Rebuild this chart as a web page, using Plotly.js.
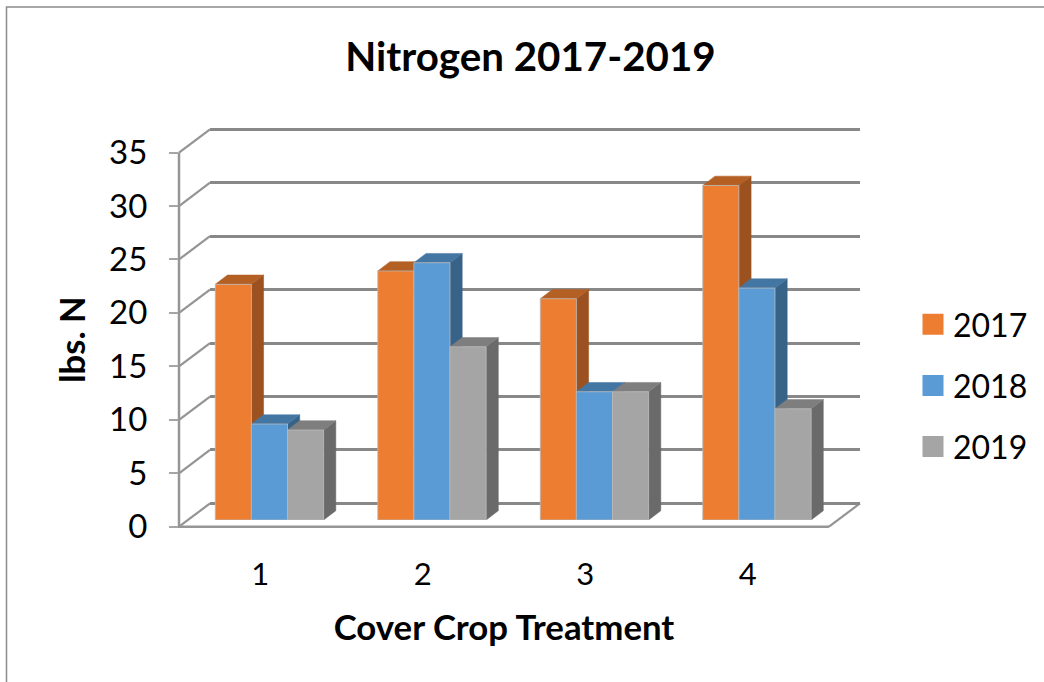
<!DOCTYPE html>
<html><head><meta charset="utf-8">
<script src="https://cdn.plot.ly/plotly-3.0.1.min.js"></script>
<style>html,body{margin:0;padding:0;background:#fff}#c{width:1044px;height:682px}</style>
</head><body><div id="c"></div>
<script>
const categories = [1, 2, 3, 4];
const seriesNames = ['2017', '2018', '2019'];
const values2017 = [22.05, 23.3, 20.7, 31.3];
const values2018 = [8.98, 24.07, 12.0, 21.7];
const values2019 = [8.42, 16.2, 12.0, 10.4];
const yTicks = [0, 5, 10, 15, 20, 25, 30, 35];
const frontColors = ['#ED7D31', '#5B9BD5', '#A5A5A5'];
const topColors = ['#B45F24', '#4476A3', '#7E7E7E'];
const sideColors = ['#9B5220', '#386388', '#6A6A6A'];
const allValues = [values2017, values2018, values2019];

const W = 1044, H = 682, FONT = 'Lato, Carlito, Calibri, sans-serif';
const domX = (a, b) => [a / W, b / W];
const domY = (top, bottom) => [(H - bottom) / H, (H - top) / H];
const pxPerX = 650 / 4, pxPerY = 374.1 / 35;
const xRange = [0.5, 4.5];
const barW = (2 / 3) / 3;
const depthX = 12.2 / pxPerX, depthY = 9.3 / pxPerY;
const gridPad = 3;

// front-plane frame in page pixels
const frontLeft = 179, frontRight = 829, frontBottom = 526.7, frontTop = 152.6;
const wallDx = 31, wallDy = 23.3;
const pxY = v => frontBottom - v * pxPerY;
const lineShape = (x0, y0, x1, y1, color, width) => ({type:'line', xref:'paper', yref:'paper', layer:'below',
  x0:x0/W, x1:x1/W, y0:1-y0/H, y1:1-y1/H, line:{color, width}});

const traces = [];

// front-plane carrier for the visible axes
traces.push({type:'scatter', mode:'markers', x:categories, y:categories.map(()=>null), xaxis:'x2', yaxis:'y2',
  showlegend:false, hoverinfo:'skip'});
// back-plane carrier for the wall gridlines
traces.push({type:'scatter', mode:'markers', x:categories, y:categories.map(()=>null), xaxis:'x', yaxis:'y',
  showlegend:false, hoverinfo:'skip'});

// depth faces of each bar
allValues.forEach((vals, s) => {
  const sx = [], sy = [], tx = [], ty = [];
  categories.forEach((c, k) => {
    const v = vals[k];
    const l = c + (s - 1.5) * barW, r = l + barW;
    sx.push(r, r + depthX, r + depthX, r, r, null);
    sy.push(0, depthY, v + depthY, v, 0, null);
    tx.push(l, r, r + depthX, l + depthX, l, null);
    ty.push(v, v, v + depthY, v + depthY, v, null);
  });
  traces.push({type:'scatter', mode:'lines', x:sx, y:sy, fill:'toself', fillcolor:sideColors[s],
    line:{color:sideColors[s], width:0.5}, xaxis:'x3', yaxis:'y3', showlegend:false, hoverinfo:'skip', zorder:s+1});
  traces.push({type:'scatter', mode:'lines', x:tx, y:ty, fill:'toself', fillcolor:topColors[s],
    line:{color:topColors[s], width:0.5}, xaxis:'x3', yaxis:'y3', showlegend:false, hoverinfo:'skip', zorder:s+1});
});

// front faces
allValues.forEach((vals, s) => {
  traces.push({type:'bar', name:seriesNames[s], x:categories, y:vals, xaxis:'x3', yaxis:'y3',
    marker:{color:frontColors[s], line:{color:'rgba(185,185,185,0.8)', width:1}}, showlegend:false, zorder:10});
});

// legend entries
seriesNames.forEach((n, s) => {
  traces.push({type:'scatter', mode:'markers', name:n, x:[null], y:[null], xaxis:'x3', yaxis:'y3',
    legendgroup:n, marker:{symbol:'square', size:16, color:frontColors[s], line:{color:frontColors[s], width:5}},
    hoverinfo:'skip'});
});

// wall connectors, floor edge, front axis lines, chart frame
const shapes = [];
yTicks.forEach(v => shapes.push(lineShape(frontLeft, pxY(v), frontLeft + wallDx, pxY(v) - wallDy, '#949494', 2.2)));
shapes.push(lineShape(frontRight, frontBottom, frontRight + wallDx, frontBottom - wallDy, '#949494', 2.2));
shapes.push(lineShape(frontLeft, frontTop, frontLeft, frontBottom + 1, '#969696', 2.5));
shapes.push(lineShape(frontLeft - 1, frontBottom, frontRight, frontBottom, '#969696', 2.5));
shapes.push({type:'path', xref:'paper', yref:'paper', path:`M ${6.5/W} 0 L ${6.5/W} ${1-7/H} L 1 ${1-7/H}`,
  line:{color:'#8c8c8c', width:1.5}});

const layout = {
  width:W, height:H, autosize:false, margin:{l:0,r:0,t:0,b:0,pad:0},
  paper_bgcolor:'#fff', plot_bgcolor:'rgba(0,0,0,0)', barmode:'group', bargap:1/3, bargroupgap:0,
  font:{family:FONT, color:'#000'},
  title:{text:'<b>Nitrogen 2017-2019</b>', x:530.5/W, xanchor:'center', xref:'paper', y:1-57/H, yanchor:'middle', yref:'paper',
    font:{family:FONT, size:40.3, color:'#000'}},
  // back wall
  xaxis:{domain:domX(210,860), range:xRange, visible:false, anchor:'y'},
  yaxis:{domain:domY(129.3-gridPad,503.4+gridPad), range:[-gridPad/pxPerY,35+gridPad/pxPerY], anchor:'x', showgrid:true,
    gridcolor:'#888888', gridwidth:2.5, tickvals:yTicks, zeroline:false, showline:false, showticklabels:false, ticks:''},
  // front plane with ticks
  xaxis2:{domain:domX(frontLeft,frontRight), range:xRange, anchor:'y2', tickvals:categories, ticktext:categories.map(String),
    showgrid:false, zeroline:false, showline:false, ticks:'',
    ticklabelstandoff:26, tickfont:{family:FONT, size:31, color:'#000'},
    title:{text:'<b>Cover Crop Treatment</b>', standoff:24, font:{family:FONT, size:34.8, color:'#000'}}},
  yaxis2:{domain:domY(frontTop,frontBottom), range:[0,35], anchor:'x2', tickvals:yTicks, ticktext:yTicks.map(String),
    showgrid:false, zeroline:false, showline:false, ticks:'outside', ticklen:9,
    tickwidth:1.5, tickcolor:'#a6a6a6', ticklabelstandoff:15, tickfont:{family:FONT, size:33, color:'#000'},
    title:{text:'<b>lbs. N</b>', standoff:12, font:{family:FONT, size:34.6, color:'#000'}}},
  // plane of the bars
  xaxis3:{domain:domX(188.2,838.2), range:xRange, visible:false, anchor:'y3'},
  yaxis3:{domain:domY(145.9,520), range:[0,35], visible:false, anchor:'x3'},
  legend:{x:913/W, xanchor:'left', y:1-297/H, yanchor:'top', bgcolor:'rgba(0,0,0,0)', tracegroupgap:16.5,
    font:{family:FONT, size:32, color:'#000'}, itemsizing:'trace', itemclick:false, itemdoubleclick:false},
  shapes,
  showlegend:true
};
Plotly.newPlot('c', traces, layout, {displayModeBar:false});
</script></body></html>
